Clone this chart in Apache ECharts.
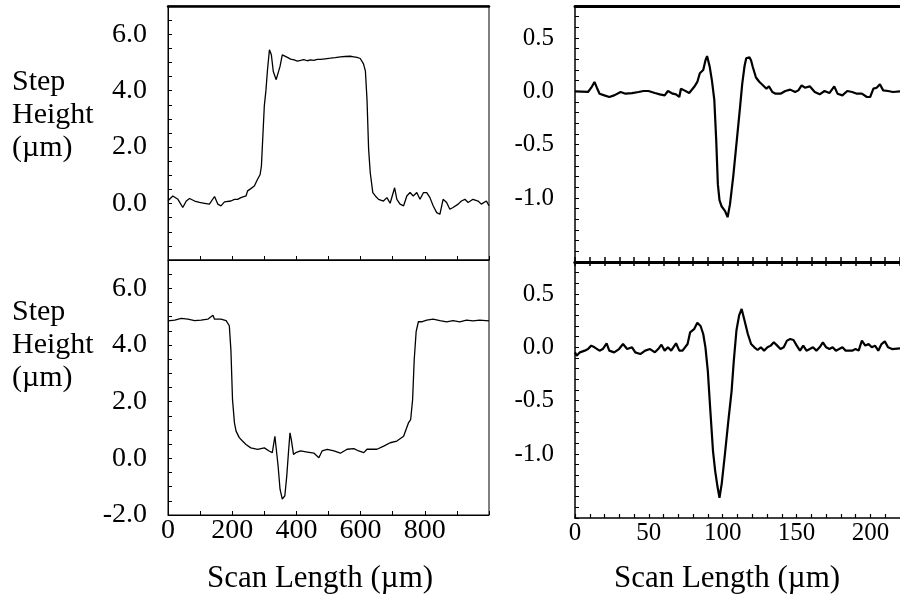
<!DOCTYPE html>
<html>
<head>
<meta charset="utf-8">
<script src="https://cdn.jsdelivr.net/npm/echarts@6/dist/echarts.min.js"></script>
<style>html,body{margin:0;padding:0;background:#fff}#c{width:900px;height:600px}</style>
</head>
<body>
<div id="c"></div>
<script>
// ---- data (scan position µm, step height µm) ----
const topLeftProfile = [[0,0.10],[5,0.15],[15,0.27],[31,0.15],[46,-0.14],[57,0.09],[67,0.18],[83,0.09],[98,0.04],[114,0.01],[129,-0.02],[145,0.25],[155,-0.02],[165,-0.08],[176,0.06],[196,0.09],[207,0.15],[217,0.15],[227,0.21],[243,0.27],[248,0.45],[258,0.53],[269,0.62],[279,0.86],[287,1.03],[291,1.33],[300,3.45],[305,4.0],[310,4.74],[316,5.45],[322,5.27],[328,4.68],[337,4.39],[343,4.45],[349,4.86],[356,5.27],[372,5.18],[382,5.12],[393,5.09],[403,5.05],[413,5.07],[423,5.10],[434,5.06],[444,5.09],[454,5.07],[465,5.11],[475,5.11],[490,5.13],[506,5.15],[521,5.17],[537,5.20],[552,5.21],[568,5.22],[579,5.20],[589,5.18],[599,5.14],[604,5.10],[609,4.95],[615,4.69],[620,3.68],[625,1.92],[630,1.10],[638,0.39],[646,0.27],[656,0.15],[671,0.09],[682,0.21],[692,0.01],[706,0.56],[713,0.15],[723,-0.02],[734,-0.08],[744,0.27],[754,0.39],[764,0.27],[775,0.39],[785,0.15],[796,0.39],[806,0.39],[816,0.21],[826,-0.08],[837,-0.32],[847,-0.38],[857,0.15],[868,0.04],[878,-0.20],[888,-0.14],[904,-0.02],[914,0.09],[925,0.15],[935,0.04],[950,0.15],[966,0.09],[976,-0.02],[992,0.09],[1000,-0.08]];

const bottomLeftProfile = [[0,4.85],[3,4.82],[21,4.88],[41,4.94],[62,4.91],[83,4.86],[103,4.88],[124,4.91],[140,5.05],[145,4.91],[165,4.91],[181,4.86],[191,4.68],[196,3.82],[201,2.07],[207,1.25],[212,0.96],[222,0.73],[232,0.61],[243,0.49],[258,0.37],[279,0.32],[300,0.37],[315,0.26],[325,0.20],[333,0.78],[337,0.73],[343,-0.27],[349,-1.09],[356,-1.44],[364,-1.32],[370,-0.62],[376,0.32],[380,0.90],[384,0.67],[391,0.14],[398,0.20],[413,0.26],[434,0.22],[455,0.18],[470,0.02],[480,0.26],[496,0.32],[517,0.26],[537,0.18],[558,0.32],[579,0.34],[594,0.26],[610,0.20],[620,0.32],[651,0.32],[672,0.43],[692,0.55],[713,0.61],[734,0.78],[749,1.25],[756,1.37],[762,2.07],[767,3.47],[773,4.47],[780,4.82],[790,4.82],[806,4.88],[826,4.91],[847,4.86],[868,4.82],[888,4.86],[909,4.82],[930,4.88],[950,4.85],[971,4.88],[1000,4.85]];

const topRightProfile = [[0,0],[8.8,-0.006],[11,0.034],[13.2,0.088],[14.8,0.034],[16.6,-0.022],[19.9,-0.038],[23.2,-0.053],[26.5,-0.038],[30.9,-0.006],[34.2,-0.022],[38.6,-0.016],[43,-0.006],[46.4,0.003],[49.7,0.003],[54.1,-0.016],[57.4,-0.028],[60.7,-0.038],[62.9,0.003],[66.2,-0.022],[68.4,-0.028],[70.6,-0.053],[71.7,0.025],[74,0.009],[77.3,-0.016],[80.6,0.04],[82.8,0.088],[84.5,0.17],[86.8,0.2],[88.3,0.29],[89.4,0.33],[91.2,0.23],[92.7,0.1],[94.3,-0.08],[95.6,-0.46],[96.7,-0.87],[97.8,-1.02],[99.3,-1.08],[101.5,-1.12],[103.3,-1.18],[104.9,-1.06],[107.1,-0.8],[109.3,-0.49],[111.5,-0.18],[113.2,0.07],[114.8,0.24],[115.9,0.31],[118.1,0.32],[119.2,0.29],[120.3,0.23],[122.5,0.13],[124.7,0.09],[127,0.06],[129.6,0.025],[131.3,0.047],[133.6,-0.006],[135.8,-0.022],[139.1,-0.022],[142.4,0.003],[145.7,0.016],[149,-0.006],[151.2,0.009],[153.4,0.056],[155.6,0.034],[158.9,0.047],[162.3,-0.006],[165.6,-0.028],[168.9,0.003],[172.2,-0.016],[175.5,0.047],[177.7,-0.022],[181,-0.038],[184.3,0.003],[187.6,-0.006],[190.9,-0.022],[194.2,-0.022],[197.6,-0.053],[199.8,-0.053],[202,0.025],[204.2,0.034],[206.4,0.066],[208.6,0.009],[211.9,0.003],[215.2,-0.006],[220,0.0]];

const bottomRightProfile = [[0,-0.047],[1.1,-0.078],[3.3,-0.047],[6.6,-0.031],[8.8,-0.016],[11,0.016],[13.2,0],[16.6,-0.031],[18.8,-0.016],[21.4,0.038],[23.2,-0.031],[26.5,-0.047],[29.8,-0.016],[32.5,0.031],[35.3,-0.016],[38.6,0],[40.8,-0.047],[44.2,-0.063],[47.5,-0.031],[50.8,-0.016],[54.1,-0.047],[56.3,-0.016],[58.5,0.025],[60.7,-0.031],[62.9,0],[65.1,-0.031],[68.4,0.038],[70.6,-0.031],[72.8,-0.031],[76.2,0.031],[77.9,0.14],[80.6,0.17],[82.8,0.23],[85,0.2],[86.8,0.125],[88.3,0],[89.9,-0.22],[91.6,-0.59],[93.4,-0.97],[94.9,-1.16],[96.5,-1.31],[97.8,-1.41],[99.3,-1.28],[101.5,-1.0],[103.8,-0.69],[106,-0.41],[107.5,-0.125],[109.3,0.16],[111.1,0.3],[112.8,0.36],[114.8,0.25],[117,0.125],[119.2,0.031],[121.4,0],[123.6,-0.025],[125.8,0],[128,-0.031],[130.3,0],[132.5,0.016],[134.6,0.047],[136.9,0.016],[139.1,-0.016],[141.3,0],[143.5,0.063],[145.7,0.078],[147.9,0.069],[150.1,0.016],[152.3,-0.031],[154.5,0.016],[156.7,-0.031],[158.9,-0.016],[161.1,0],[163.4,-0.031],[165.6,0],[167.8,0.047],[170,0],[172.2,-0.016],[174.4,0],[176.6,-0.031],[178.8,-0.016],[181,0],[183.2,-0.031],[185.4,-0.031],[187.6,-0.031],[189.9,-0.016],[192,-0.031],[194.2,0.063],[196.5,0.016],[198.7,0.031],[200.9,0],[203.1,0.016],[205.3,-0.031],[207.5,0.031],[209.7,0.056],[211.9,0],[214.6,-0.016],[220,-0.01]];

// ---- tick label values ----
const leftXLabels = [0, 200, 400, 600, 800];
const rightXLabels = [0, 50, 100, 150, 200];
const topLeftYLabels = [0, 2, 4, 6];
const bottomLeftYLabels = [-2, 0, 2, 4, 6];
const rightYLabels = [-1.0, -0.5, 0.0, 0.5];
const yTitle = 'Step\nHeight\n(µm)';
const xTitle = 'Scan Length (µm)';

const FONT = 'Liberation Serif';
const chart = echarts.init(document.getElementById('c'), null, {renderer: 'canvas'});

function pick(list, digits) {
  return function (v) {
    const r = Math.round(v * 10) / 10;
    return list.some(function (t) { return Math.abs(t - r) < 1e-6; }) ? r.toFixed(digits) : '';
  };
}
function pickInt(list) {
  return function (v) {
    const r = Math.round(v);
    return list.indexOf(r) >= 0 && Math.abs(v - r) < 1e-6 ? String(r) : '';
  };
}
const black = '#000';
function lineAxis(w) { return {show: true, onZero: false, lineStyle: {color: black, width: w}}; }
const noLabel = {show: false};
const noSplit = {show: false};
const titleStyle = function (size, lh) { return {fontFamily: FONT, fontSize: size, fontWeight: 'normal', lineHeight: lh, color: black}; };

const option = {
  animation: false,
  backgroundColor: '#fff',
  title: [
    {text: yTitle, left: 12, top: 66, padding: 0, textStyle: titleStyle(30, 33)},
    {text: yTitle, left: 12, top: 296, padding: 0, textStyle: titleStyle(30, 33)},
    {text: xTitle, left: 320, top: 563, textAlign: 'center', padding: 0, textStyle: titleStyle(31, 32)},
    {text: xTitle, left: 727, top: 563, textAlign: 'center', padding: 0, textStyle: titleStyle(31, 32)}
  ],
  grid: [
    {left: 168, top: 6, width: 321, height: 254, show: true, borderColor: black, borderWidth: 1},
    {left: 168, top: 260, width: 321, height: 255, show: true, borderColor: black, borderWidth: 1},
    {left: 575, top: 6, width: 332, height: 256},
    {left: 575, top: 262, width: 332, height: 256}
  ],
  xAxis: [
    {gridIndex: 0, type: 'value', min: 0, max: 1000, interval: 100, position: 'bottom', axisLine: lineAxis(1), axisTick: {inside: true, length: 4, lineStyle: {color: black}}, axisLabel: noLabel, splitLine: noSplit},
    {gridIndex: 0, type: 'value', min: 0, max: 1000, position: 'top', axisLine: lineAxis(2.5), axisTick: {show: false}, axisLabel: noLabel, splitLine: noSplit},
    {gridIndex: 1, type: 'value', min: 0, max: 1000, interval: 100, position: 'bottom', axisLine: lineAxis(1), axisTick: {inside: true, length: 4, lineStyle: {color: black}},
      axisLabel: {margin: 2, fontFamily: FONT, fontSize: 28, color: black, formatter: pickInt(leftXLabels)}, splitLine: noSplit},
    {gridIndex: 2, type: 'value', min: 0, max: 220, interval: 10, position: 'bottom', axisLine: lineAxis(3), axisTick: {inside: true, length: 5, lineStyle: {color: black, width: 1.5}}, axisLabel: noLabel, splitLine: noSplit},
    {gridIndex: 2, type: 'value', min: 0, max: 220, position: 'top', axisLine: lineAxis(3), axisTick: {show: false}, axisLabel: noLabel, splitLine: noSplit},
    {gridIndex: 3, type: 'value', min: 0, max: 220, interval: 10, position: 'bottom', axisLine: lineAxis(1.5), axisTick: {inside: true, length: 4, lineStyle: {color: black, width: 1.2}},
      axisLabel: {margin: 3, fontFamily: FONT, fontSize: 25, color: black, showMaxLabel: false, formatter: pickInt(rightXLabels)}, splitLine: noSplit},
    {gridIndex: 3, type: 'value', min: 0, max: 220, interval: 10, position: 'top', axisLine: lineAxis(3), axisTick: {inside: true, length: 4, lineStyle: {color: black, width: 1.5}}, axisLabel: noLabel, splitLine: noSplit}
  ],
  yAxis: [
    {gridIndex: 0, type: 'value', min: -2, max: 7, interval: 0.5, axisLine: lineAxis(1), axisTick: {inside: true, length: 4, lineStyle: {color: black}},
      axisLabel: {margin: 21, fontFamily: FONT, fontSize: 28, color: black, formatter: pick(topLeftYLabels, 1)}, splitLine: noSplit},
    {gridIndex: 1, type: 'value', min: -2, max: 7, interval: 0.5, axisLine: lineAxis(1), axisTick: {inside: true, length: 4, lineStyle: {color: black}},
      axisLabel: {margin: 21, fontFamily: FONT, fontSize: 28, color: black, formatter: pick(bottomLeftYLabels, 1)}, splitLine: noSplit},
    {gridIndex: 2, type: 'value', min: -1.6, max: 0.8, interval: 0.1, axisLine: lineAxis(1.5), axisTick: {inside: true, length: 4, lineStyle: {color: black}},
      axisLabel: {margin: 21, fontFamily: FONT, fontSize: 25, color: black, formatter: pick(rightYLabels, 1)}, splitLine: noSplit},
    {gridIndex: 3, type: 'value', min: -1.6, max: 0.8, interval: 0.1, axisLine: lineAxis(1.5), axisTick: {inside: true, length: 4, lineStyle: {color: black}},
      axisLabel: {margin: 21, fontFamily: FONT, fontSize: 25, color: black, formatter: pick(rightYLabels, 1)}, splitLine: noSplit}
  ],
  series: [
    {type: 'line', xAxisIndex: 0, yAxisIndex: 0, data: topLeftProfile, showSymbol: false, lineStyle: {color: black, width: 1.3}},
    {type: 'line', xAxisIndex: 2, yAxisIndex: 1, data: bottomLeftProfile, showSymbol: false, lineStyle: {color: black, width: 1.3}},
    {type: 'line', xAxisIndex: 3, yAxisIndex: 2, data: topRightProfile, showSymbol: false, lineStyle: {color: black, width: 2.2}},
    {type: 'line', xAxisIndex: 5, yAxisIndex: 3, data: bottomRightProfile, showSymbol: false, lineStyle: {color: black, width: 2.2}}
  ]
};
chart.setOption(option);
</script>
</body>
</html>
